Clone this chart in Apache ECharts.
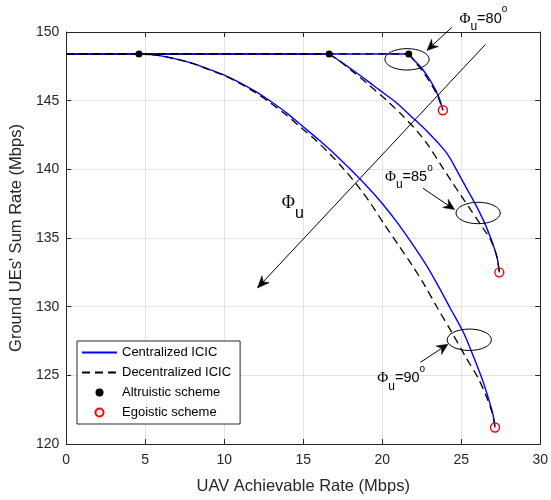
<!DOCTYPE html>
<html><head><meta charset="utf-8">
<script src="https://cdn.jsdelivr.net/npm/echarts@6/dist/echarts.min.js"></script>
<style>html,body{margin:0;padding:0;background:#fff}#c{width:551px;height:500px}</style>
</head><body><div id="c"></div>
<script>
// ---- data ----
const xTicks = [0, 5, 10, 15, 20, 25, 30];
const yTicks = [120, 125, 130, 135, 140, 145, 150];
const legendNames = ['Centralized ICIC', 'Decentralized ICIC', 'Altruistic scheme', 'Egoistic scheme'];

const cent90 = [[0,148.4],[4.6,148.4],[5.3,148.36],[6,148.26],[7,148.02],[8,147.71],[9,147.3],[10,146.86],[11,146.3],[12,145.66],[13,144.9],[14,144.06],[15,143.1],[16,142.13],[17,141.1],[18,139.98],[19,138.8],[20,137.51],[21,136.05],[22,134.41],[22.8,133.0],[23.5,131.6],[24.3,129.9],[25.15,128.1],[25.8,126.3],[26.3,124.8],[26.7,123.4],[27.0,122.2],[27.14,121.2]];
const dec90 = [[0,148.4],[4.6,148.4],[5.3,148.36],[6,148.26],[7,148.02],[7.98,147.71],[8.96,147.3],[9.95,146.86],[10.93,146.3],[11.88,145.66],[12.84,144.9],[13.81,144.06],[14.8,143.1],[15.78,142.13],[16.7,141.1],[17.6,139.98],[18.45,138.8],[19.27,137.51],[20.1,136.05],[21.07,134.41],[21.9,133.0],[22.66,131.6],[23.5,129.9],[24.42,128.1],[25.3,126.3],[26.07,124.8],[26.61,123.4],[26.98,122.2],[27.14,121.2]];
const cent85 = [[0,148.4],[16.64,148.4],[17.3,147.9],[18.1,147.25],[19,146.5],[19.8,145.8],[20.84,144.9],[21.89,143.8],[22.9,142.7],[23.9,141.45],[24.3,140.8],[24.66,140.05],[25.3,138.7],[25.88,137.5],[26.4,136.3],[26.8,135.2],[27.14,134.1],[27.3,133.4],[27.41,132.5]];
const dec85 = [[0,148.4],[16.64,148.4],[17.3,147.88],[18.1,147.15],[19,146.3],[20.3,145.0],[21.3,143.9],[22.3,142.65],[22.94,141.7],[23.78,140.2],[24.4,139.1],[25.04,138.0],[25.6,137.05],[26.1,136.2],[26.45,135.6],[26.8,135.0],[27.14,134.1],[27.3,133.4],[27.41,132.5]];
const cent80 = [[0,148.4],[21.68,148.4],[22.1,147.85],[22.52,147.34],[23.15,146.26],[23.57,145.3],[23.84,144.3]];
const dec80 = [[0,148.4],[21.68,148.4],[22.05,147.88],[22.45,147.3],[23.05,146.3],[23.5,145.35],[23.84,144.3]];
const altruistic = [[4.6,148.4],[16.64,148.4],[21.68,148.4]];
const egoistic = [[23.84,144.3],[27.41,132.5],[27.14,121.2]];

// annotations (data coordinates)
const ellipses = [[21.57,148.01],[26.07,136.82],[25.51,127.59]];
const ellipseRadius = [1.40, 0.78];
const arrows = [
  [[24.41,150.34],[22.83,148.66]],
  [[22.58,138.62],[24.58,137.07]],
  [[22.42,125.95],[24.16,127.27]],
  [[26.53,149.09],[12.1,131.36]]
];
const phiLabels = [
  {pos:[24.89,150.97], rest:'=80', big:false},
  {pos:[20.17,139.43], rest:'=85', big:false},
  {pos:[19.69,124.79], rest:'=90', big:false},
  {pos:[13.64,137.5], rest:'', big:true}
];

const FONT = "'Liberation Sans', Arial, sans-serif";
const AX = '#262626';
const chart = echarts.init(document.getElementById('c'), null, {renderer:'canvas'});

function lineStyleOf(dashed) {
  return dashed ? {color:'#000', width:1.3, type:[8,5]} : {color:'#0000ff', width:1.4};
}
// each curve: straight flat part up to its altruistic point, then a smooth curve
function curveSeries(name, data, dashed) {
  const common = {name, type:'line', symbol:'none', lineStyle:lineStyleOf(dashed),
    itemStyle:{color: dashed ? '#000' : '#0000ff'}, z: dashed ? 3 : 2, animation:false};
  return [
    Object.assign({}, common, {data:data.slice(0,2), smooth:false}),
    Object.assign({}, common, {data:data.slice(1), smooth:0.3})
  ];
}

const baseAxis = {
  axisLine:{show:true, onZero:false, lineStyle:{color:AX, width:1}},
  axisTick:{show:true, inside:true, length:5, lineStyle:{color:AX}},
};

const hiddenIcon = {color:'rgba(0,0,0,0)', borderWidth:0, opacity:0};

chart.setOption({
  animation:false,
  backgroundColor:'#fff',
  grid:{left:66, right:9, top:32, bottom:53},
  xAxis:[
    Object.assign({}, baseAxis, {
      type:'value', min:xTicks[0], max:xTicks[xTicks.length-1], interval:5, position:'bottom',
      axisLabel:{color:AX, fontSize:14, fontFamily:FONT, margin:9},
      splitLine:{show:true, lineStyle:{color:'#e3e3e3', width:1}},
      name:'UAV Achievable Rate (Mbps)', nameLocation:'middle', nameGap:34,
      nameTextStyle:{color:AX, fontSize:16.5, fontFamily:FONT}
    }),
    Object.assign({}, baseAxis, {
      type:'value', min:xTicks[0], max:xTicks[xTicks.length-1], interval:5, position:'top',
      axisLabel:{show:false}, splitLine:{show:false}
    })
  ],
  yAxis:[
    Object.assign({}, baseAxis, {
      type:'value', min:yTicks[0], max:yTicks[yTicks.length-1], interval:5, position:'left',
      axisLabel:{color:AX, fontSize:14, fontFamily:FONT, margin:7},
      splitLine:{show:true, lineStyle:{color:'#e3e3e3', width:1}},
      name:"Ground UEs' Sum Rate (Mbps)", nameLocation:'middle', nameGap:38,
      nameTextStyle:{color:AX, fontSize:16.5, fontFamily:FONT}
    }),
    Object.assign({}, baseAxis, {
      type:'value', min:yTicks[0], max:yTicks[yTicks.length-1], interval:5, position:'right',
      axisLabel:{show:false}, splitLine:{show:false}
    })
  ],
  legend:{
    data:[
      {name:legendNames[0], itemStyle:hiddenIcon},
      {name:legendNames[1], itemStyle:hiddenIcon},
      {name:legendNames[2]},
      {name:legendNames[3]}
    ],
    orient:'vertical', left:77, top:341,
    itemWidth:35, itemHeight:8, itemGap:7,
    padding:[5,9,5,4], borderColor:AX, borderWidth:1, backgroundColor:'#fff', borderRadius:0,
    textStyle:{color:'#000', fontSize:13, fontFamily:FONT},
    selectedMode:false
  },
  series:[].concat(
    curveSeries(legendNames[0], cent90, false),
    curveSeries(legendNames[0], cent85, false),
    curveSeries(legendNames[0], cent80, false),
    curveSeries(legendNames[1], dec90, true),
    curveSeries(legendNames[1], dec85, true),
    curveSeries(legendNames[1], dec80, true),
    [
      {name:legendNames[2], type:'scatter', data:altruistic, symbol:'circle', symbolSize:7,
        itemStyle:{color:'#000', opacity:1}, z:5},
      {name:legendNames[3], type:'scatter', data:egoistic, symbol:'circle', symbolSize:9,
        itemStyle:{color:'rgba(255,255,255,0)', borderColor:'#ff0000', borderWidth:1.4, opacity:1}, z:5}
    ]
  )
});

// ---- annotations placed through the axes' own scales ----
const toPx = p => chart.convertToPixel({xAxisIndex:0, yAxisIndex:0}, p);
const graphics = [];
ellipses.forEach(e => {
  const c = toPx(e);
  const r = toPx([e[0]+ellipseRadius[0], e[1]+ellipseRadius[1]]);
  graphics.push({type:'ellipse', shape:{cx:c[0], cy:c[1], rx:Math.abs(r[0]-c[0]), ry:Math.abs(r[1]-c[1])},
    style:{fill:'none', stroke:'#000', lineWidth:1}, z:10});
});
arrows.forEach((a, i) => {
  const t = toPx(a[0]), h = toPx(a[1]);
  const dx = h[0]-t[0], dy = h[1]-t[1], L = Math.hypot(dx,dy);
  const ux = dx/L, uy = dy/L, nx = -uy, ny = ux;
  const HL = i === 3 ? 12 : 11, HW = 5, back = 3.5;
  const bx = h[0]-ux*HL, by = h[1]-uy*HL;
  const ix = h[0]-ux*(HL-back), iy = h[1]-uy*(HL-back);
  graphics.push({type:'line', shape:{x1:t[0], y1:t[1], x2:ix, y2:iy}, style:{stroke:'#000', lineWidth:1}, z:10});
  graphics.push({type:'polygon', shape:{points:[[h[0],h[1]],[bx+nx*HW,by+ny*HW],[ix,iy],[bx-nx*HW,by-ny*HW]]},
    style:{fill:'#000', stroke:'#000', lineWidth:0.5}, z:10});
});
phiLabels.forEach(l => {
  const p = toPx(l.pos);
  const rich = l.big ? {
    p:{fontFamily:"'Liberation Serif', 'DejaVu Serif', serif", fontSize:18, lineHeight:36, fill:'#000'},
    s:{fontFamily:FONT, fontSize:16, lineHeight:14, verticalAlign:'bottom', fill:'#000'}
  } : {
    p:{fontFamily:"'Liberation Serif', 'DejaVu Serif', serif", fontSize:15, lineHeight:28, fill:'#000'},
    s:{fontFamily:FONT, fontSize:12, lineHeight:12, verticalAlign:'bottom', fill:'#000'},
    e:{fontFamily:FONT, fontSize:14.5, lineHeight:28, fill:'#000'},
    o:{fontFamily:FONT, fontSize:10, lineHeight:16, verticalAlign:'top', fill:'#000'}
  };
  const text = l.big ? '{p|Φ}{s|u}' : '{p|Φ}{s|u}{e|' + l.rest + '}{o|o}';
  graphics.push({type:'text', x:p[0], y:p[1], style:{text, rich, align:'left', verticalAlign:'middle'}, z:11});
});
chart.setOption({graphic:graphics});
</script>
</body></html>
